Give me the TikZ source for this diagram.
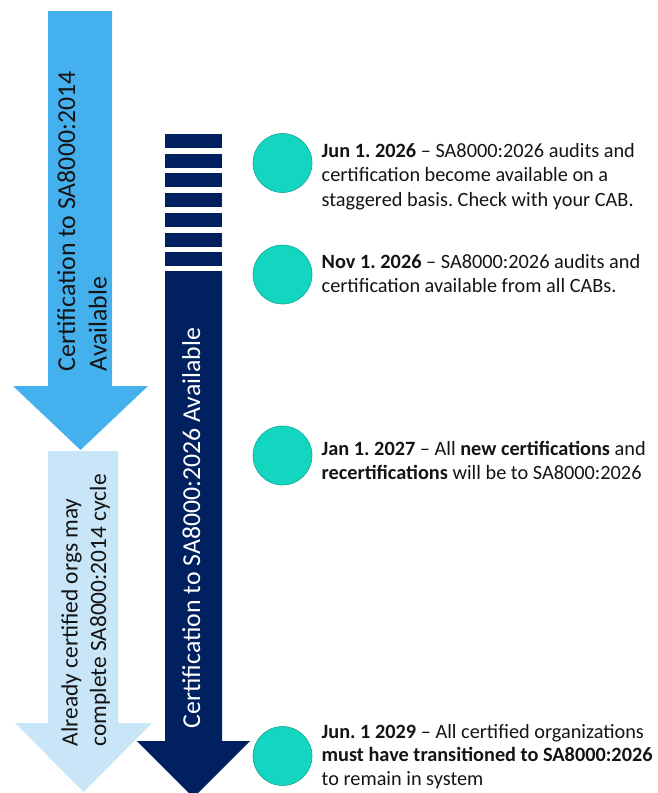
\documentclass[tikz,border=0pt]{standalone}
\usepackage{fontspec}
\setmainfont{Carlito}
\frenchspacing
\definecolor{lightblue}{RGB}{69,176,238}
\definecolor{paleblue}{RGB}{200,230,248}
\definecolor{navy}{RGB}{0,32,96}
\definecolor{tealfill}{RGB}{18,214,192}
\definecolor{tealline}{RGB}{20,165,148}
\definecolor{txt}{RGB}{20,20,20}
\tikzset{
  milestone/.style={circle, fill=tealfill, draw=tealline, line width=0.6pt, minimum size=59pt, inner sep=0pt},
  mtext/.style={anchor=base west, align=left, inner sep=0pt, text=txt, font=\fontsize{20.3}{24.4}\selectfont},
  arrowtext/.style={rotate=90, anchor=base west, align=left, inner sep=0pt},
}
\begin{document}
\begin{tikzpicture}[x=1pt,y=-1pt]
\useasboundingbox (0,0) rectangle (657,793);
% top light-blue arrow
\fill[lightblue] (48,11) -- (112,11) -- (112,386) -- (148,386) -- (80.5,450) -- (13,386) -- (48,386) -- cycle;
% pale arrow
\fill[paleblue] (48,451) -- (118,451) -- (118,723) -- (152,723) -- (83.5,792) -- (15,723) -- (48,723) -- cycle;
% dark navy arrow with stripes
\foreach \y in {134,153.7,173.4,193.1,212.8,232.5,252.2}
  \fill[navy] (165,\y) rectangle (222,\y+14);
\fill[navy] (165,271) -- (222,271) -- (222,741) -- (250,741) -- (193.5,797.5) -- (137,741) -- (165,741) -- cycle;
% arrow texts (anchor = baseline of the last line)
\node[arrowtext, text=txt, font=\fontsize{25.8}{31.7}\selectfont] (old) at (106.7,371.5)
  {Certification to SA8000:2014\\Available};
\node[arrowtext, text=txt, font=\fontsize{23.4}{28.5}\selectfont] (cycle) at (106,746.5)
  {Already certified orgs may\\complete SA8000:2014 cycle};
\node[arrowtext, text=white, font=\fontsize{25.8}{31.7}\selectfont] (new) at (200,728.3)
  {Certification to SA8000:2026 Available};
% milestones
\node[milestone] (m1) at (282.5,163) {};
\node[milestone] (m2) at (282.5,274.5) {};
\node[milestone] (m3) at (282.5,455.5) {};
\node[milestone] (m4) at (282.5,756) {};
\node[mtext] (t1) at (321.5,206.3) {\textbf{Jun 1. 2026} – SA8000:2026 audits and\\certification become available on a\\staggered basis. Check with your CAB.};
\node[mtext] (t2) at (321.5,292.7) {\textbf{Nov 1. 2026} – SA8000:2026 audits and\\certification available from all CABs.};
\node[mtext] (t3) at (321.5,479.4) {\textbf{Jan 1. 2027} – All \textbf{new certifications} and\\\textbf{recertifications} will be to SA8000:2026};
\node[mtext, font=\fontsize{20.3}{23.4}\selectfont] (t4) at (321.5,785) {\textbf{Jun. 1 2029} – All certified organizations\\\textbf{must have transitioned to SA8000:2026}\\to remain in system};
\end{tikzpicture}
\end{document}
